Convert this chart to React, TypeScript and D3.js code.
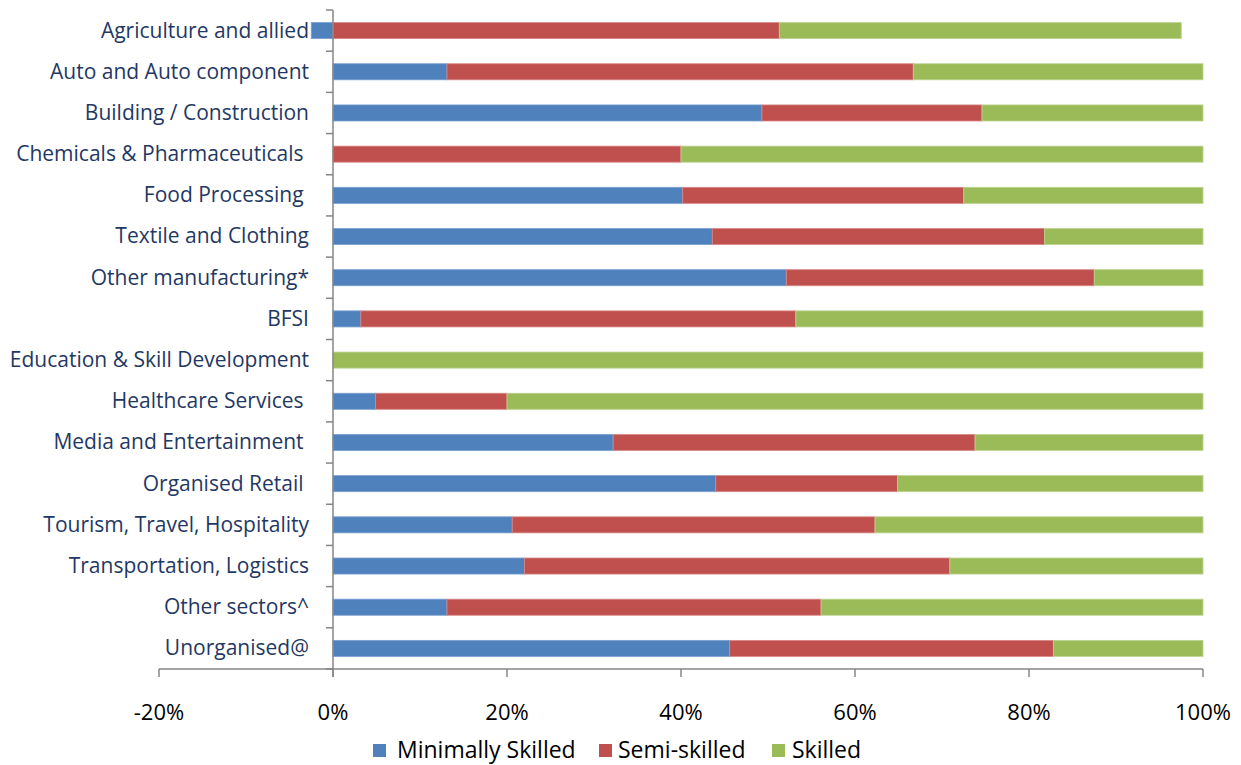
import React from "react";
import * as d3 from "d3";

const categories = [
  "Agriculture and allied",
  "Auto and Auto component",
  "Building / Construction",
  "Chemicals & Pharmaceuticals ",
  "Food Processing ",
  "Textile and Clothing",
  "Other manufacturing*",
  "BFSI",
  "Education & Skill Development",
  "Healthcare Services ",
  "Media and Entertainment ",
  "Organised Retail ",
  "Tourism, Travel, Hospitality",
  "Transportation, Logistics",
  "Other sectors^",
  "Unorganised@",
];

const minimallySkilled = [-2.5, 13.1, 49.3, 0, 40.2, 43.6, 52.1, 3.2, 0, 4.9, 32.2, 44.0, 20.6, 22.0, 13.1, 45.6];
const semiSkilled = [51.3, 53.6, 25.3, 40.0, 32.3, 38.2, 35.4, 50.0, 0, 15.1, 41.6, 20.9, 41.7, 48.9, 43.0, 37.2];
const skilled = [46.2, 33.3, 25.4, 60.0, 27.5, 18.2, 12.5, 46.8, 100, 80.0, 26.2, 35.1, 37.7, 29.1, 43.9, 17.2];

const xTicks = [-20, 0, 20, 40, 60, 80, 100];
const seriesNames = ["Minimally Skilled", "Semi-skilled", "Skilled"];
const colors = ["#4F81BD", "#C0504D", "#9BBB59"];
const strokes = ["#7A9FD0", "#D98886", "#BCD48F"];

export default function App() {
  const W = 1241, H = 765;
  const left = 159, right = 1203, top = 10, bottom = 669;
  const x = d3.scaleLinear().domain([-20, 100]).range([left, right]);
  const y = d3.scaleBand().domain(categories).range([top, bottom]).paddingInner(0.61).paddingOuter(0.305);
  const band = d3.scaleBand().domain(categories).range([top, bottom]);
  const series = [minimallySkilled, semiSkilled, skilled];
  const font = "'Open Sans', sans-serif";

  const bars: JSX.Element[] = [];
  categories.forEach((c, i) => {
    let pos = 0;
    let neg = 0;
    series.forEach((s, k) => {
      const v = s[i];
      if (v === 0) return;
      let x0, x1;
      if (v < 0) {
        x0 = neg + v; x1 = neg; neg += v;
      } else {
        x0 = pos; x1 = pos + v; pos += v;
      }
      bars.push(
        <rect key={`${i}-${k}`} x={x(x0)} y={y(c)!} width={x(x1) - x(x0)} height={y.bandwidth()}
          fill={colors[k]} stroke={strokes[k]} strokeWidth={0.8} />
      );
    });
  });

  const x0px = x(0);
  const legendItems = [
    { sq: 373, tx: 397 },
    { sq: 599, tx: 618 },
    { sq: 772, tx: 792 },
  ];

  return (
    <svg width={W} height={H} style={{ position: "absolute", left: 0, top: 0 }}>
      <rect width={W} height={H} fill="#fff" />
      {bars}
      {/* category axis */}
      <line x1={x0px} x2={x0px} y1={top} y2={bottom + 8} stroke="#868686" strokeWidth={1.5} />
      {[...categories.map((c) => band(c)!), bottom].map((t, i) => (
        <line key={i} x1={x0px - 7} x2={x0px} y1={t} y2={t} stroke="#868686" strokeWidth={1.5} />
      ))}
      {categories.map((c) => (
        <text key={c} x={309} y={band(c)! + band.bandwidth() / 2} dy="0.33em" textAnchor="end"
          fontFamily={font} fontSize={21} fill="#1F3864" style={{ whiteSpace: "pre" }}>
          {c}
        </text>
      ))}
      {/* value axis */}
      <line x1={left} x2={right} y1={bottom} y2={bottom} stroke="#868686" strokeWidth={1.5} />
      {xTicks.map((t) => (
        <g key={t}>
          <line x1={x(t)} x2={x(t)} y1={bottom} y2={bottom + 8} stroke="#868686" strokeWidth={1.5} />
          <text x={x(t)} y={720} textAnchor="middle" fontFamily={font} fontSize={22} fill="#000">
            {`${t}%`}
          </text>
        </g>
      ))}
      {/* legend */}
      {seriesNames.map((n, k) => (
        <g key={n}>
          <rect x={legendItems[k].sq} y={744} width={13} height={13} fill={colors[k]} />
          <text x={legendItems[k].tx} y={757.5} fontFamily={font} fontSize={23} fill="#000">{n}</text>
        </g>
      ))}
    </svg>
  );
}
